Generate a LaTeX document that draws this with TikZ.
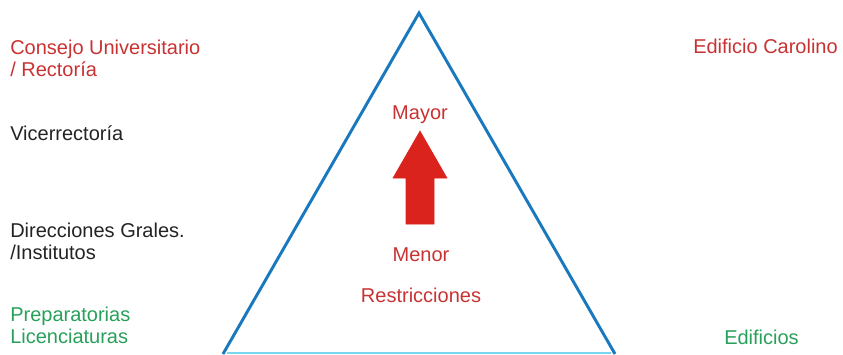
\documentclass[tikz,border=0pt]{standalone}
\usepackage{fontspec}
\setmainfont{Liberation Sans}
\definecolor{rojo}{RGB}{200,50,50}
\definecolor{verde}{RGB}{40,160,90}
\definecolor{gris}{RGB}{35,35,35}
\definecolor{azul}{RGB}{25,120,190}
\definecolor{cian}{RGB}{120,215,240}
\definecolor{flecha}{RGB}{218,35,28}

\begin{document}
\begin{tikzpicture}[x=0.75pt, y=-0.75pt,
    txt/.style={anchor=base west, inner sep=0pt, align=left, font=\fontsize{15}{16.5}\selectfont},
    mid/.style={anchor=base, inner sep=0pt, font=\fontsize{15}{16.5}\selectfont, rojo}]
  \useasboundingbox (0,0) rectangle (843,354);
  \coordinate (A) at (419,13);
  \coordinate (B) at (223,354);
  \coordinate (C) at (615,354);
  \draw [cian, line width=1.5pt] (227,352.5) -- (611,352.5);
  \draw [azul, line width=2.2pt, line join=miter] (B) -- (A) -- (C);
  \filldraw [flecha] (420,131) -- (447,178) -- (434,178) -- (434,224) -- (406,224) -- (406,178) -- (393,178) -- cycle;
  \node [txt, rojo] (CU) at (10,76) {Consejo Universitario\\/ Rectoría};
  \node [txt, gris] (VR) at (10,140) {Vicerrectoría};
  \node [txt, gris] (DG) at (10,259) {Direcciones Grales.\\/Institutos};
  \node [txt, verde] (PL) at (10,343) {Preparatorias\\Licenciaturas};
  \node [txt, rojo] (EC) at (693,53) {Edificio Carolino};
  \node [txt, verde] (ED) at (724,344) {Edificios};
  \node [mid] (May) at (420,119) {Mayor};
  \node [mid] (Men) at (421,261) {Menor};
  \node [mid] (Res) at (421,302) {Restricciones};
\end{tikzpicture}
\end{document}
